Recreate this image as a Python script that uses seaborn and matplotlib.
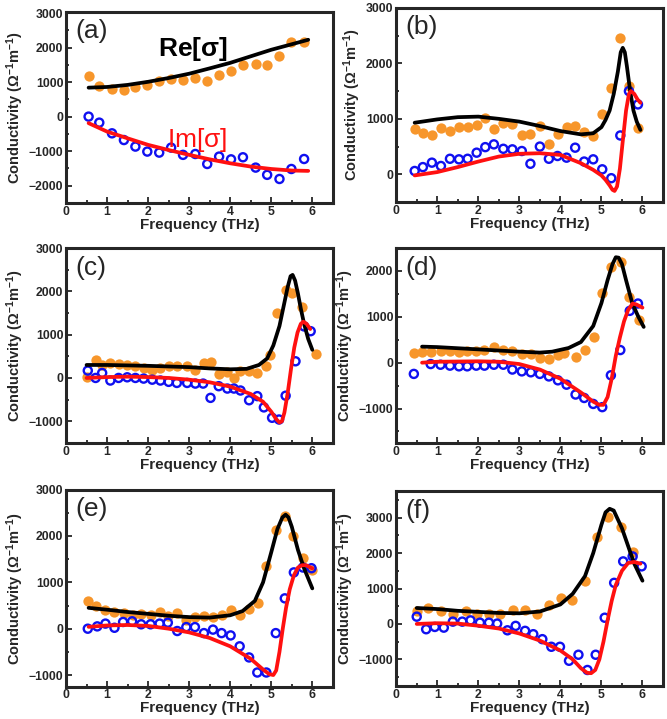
#!/usr/bin/env python3
import matplotlib
matplotlib.use('Agg')
import matplotlib.pyplot as plt
from matplotlib.ticker import AutoMinorLocator, MultipleLocator
import seaborn as sns

# ---- panel (a) ----
a_dot_x = [0.55, 0.81, 1.12, 1.41, 1.69, 1.98, 2.27, 2.56, 2.85, 3.15, 3.44, 3.73, 4.02, 4.31, 4.62, 4.90, 5.20, 5.49, 5.80]
a_re_dot = [1180, 890, 790, 775, 850, 910, 1035, 1080, 1065, 1110, 1045, 1210, 1325, 1500, 1520, 1490, 1760, 2175, 2175]
a_im_dot = [0, -175, -485, -680, -870, -1015, -1045, -900, -1110, -1085, -1375, -1160, -1240, -1180, -1480, -1690, -1810, -1520, -1230]
a_fit_x = [0.55, 1.0, 1.5, 2.0, 2.5, 3.0, 3.5, 4.0, 4.5, 5.0, 5.5, 5.9]
a_re_fit = [840, 860, 920, 1010, 1120, 1245, 1400, 1560, 1750, 1940, 2100, 2230]
a_im_fit = [-190, -435, -630, -820, -970, -1110, -1240, -1355, -1450, -1520, -1565, -1575]

# ---- panel (b) ----
b_dot_x = [0.45, 0.65, 0.87, 1.09, 1.31, 1.53, 1.74, 1.96, 2.17, 2.38, 2.61, 2.83, 3.06, 3.27, 3.5, 3.72, 3.93, 4.15, 4.36, 4.58, 4.8, 5.02, 5.24, 5.46, 5.67, 5.89]
b_re_dot = [820, 750, 700, 835, 780, 850, 850, 880, 1020, 810, 930, 900, 700, 720, 870, 550, 720, 850, 870, 760, 690, 1080, 1560, 2460, 1590, 840]
b_im_dot = [60, 130, 210, 150, 280, 270, 280, 390, 490, 540, 460, 450, 420, 190, 500, 280, 330, 300, 480, 230, 270, 90, -70, 700, 1500, 1260]
b_re_fit_x = [0.45, 1.0, 1.5, 2.0, 2.5, 3.0, 3.5, 4.0, 4.5, 4.8, 5.0, 5.1, 5.2, 5.3, 5.4, 5.47, 5.52, 5.57, 5.62, 5.7, 5.78, 5.86, 5.95]
b_re_fit = [930, 990, 1030, 1040, 1000, 950, 870, 780, 720, 740, 850, 980, 1150, 1450, 1850, 2200, 2280, 2200, 1950, 1500, 1150, 950, 800]
b_im_fit_x = [0.45, 1.0, 1.5, 2.0, 2.5, 3.0, 3.5, 4.0, 4.5, 4.8, 5.0, 5.1, 5.2, 5.27, 5.32, 5.38, 5.45, 5.52, 5.6, 5.67, 5.72, 5.8, 5.88, 5.95]
b_im_fit = [-20, 40, 130, 230, 320, 370, 380, 350, 200, 80, -20, -100, -200, -280, -300, -220, 100, 600, 1150, 1450, 1500, 1450, 1350, 1290]

# ---- panel (c) ----
c_re_x = [0.51, 0.72, 0.88, 1.08, 1.28, 1.49, 1.69, 1.89, 2.1, 2.3, 2.5, 2.7, 2.95, 3.15, 3.36, 3.52, 3.72, 3.93, 4.09, 4.25, 4.46, 4.66, 4.86, 4.98, 5.15, 5.35, 5.51, 5.76, 6.1]
c_re_dot = [15, 420, 310, 350, 320, 310, 270, 230, 190, 230, 270, 270, 270, 190, 350, 370, 80, 140, 0, 150, 150, 115, 270, 540, 1500, 2040, 1960, 1650, 560]
c_im_x = [0.53, 0.72, 0.88, 1.08, 1.28, 1.49, 1.69, 1.89, 2.1, 2.3, 2.5, 2.7, 2.95, 3.15, 3.34, 3.52, 3.72, 3.93, 4.09, 4.25, 4.46, 4.66, 4.82, 5.02, 5.19, 5.35, 5.59, 5.8, 5.96]
c_im_dot = [170, 0, 115, -60, 0, 15, 0, -15, -40, -60, -90, -115, -115, -130, -130, -460, -190, -245, -245, -290, -515, -420, -680, -920, -960, -410, 385, 1190, 1080]
c_re_fit_x = [0.5, 1.0, 2.0, 3.0, 3.5, 4.0, 4.4, 4.7, 4.9, 5.05, 5.2, 5.3, 5.4, 5.47, 5.52, 5.58, 5.65, 5.72, 5.8, 5.9, 6.0]
c_re_fit = [300, 300, 280, 250, 220, 200, 210, 300, 450, 750, 1200, 1650, 2100, 2350, 2380, 2250, 1950, 1600, 1250, 900, 650]
c_im_fit_x = [0.5, 1.0, 1.5, 2.0, 2.5, 3.0, 3.5, 4.0, 4.5, 4.8, 5.0, 5.12, 5.2, 5.26, 5.32, 5.4, 5.48, 5.56, 5.64, 5.72, 5.78, 5.86, 5.95]
c_im_fit = [0, 20, 30, 20, 0, -40, -100, -200, -370, -550, -780, -950, -1030, -1000, -800, -350, 200, 700, 1050, 1250, 1300, 1250, 1130]

# ---- panel (d) ----
d_re_x = [0.43, 0.63, 0.84, 1.08, 1.31, 1.53, 1.73, 1.95, 2.15, 2.38, 2.61, 2.83, 3.06, 3.28, 3.5, 3.72, 3.94, 4.09, 4.37, 4.6, 4.82, 5.02, 5.23, 5.47, 5.67, 5.92]
d_re_dot = [210, 230, 230, 245, 245, 230, 245, 245, 285, 340, 285, 245, 190, 190, 100, 90, 175, 210, 125, 280, 570, 1510, 2090, 2190, 1440, 935]
d_im_x = [0.43, 0.84, 1.08, 1.31, 1.53, 1.73, 1.95, 2.15, 2.38, 2.61, 2.83, 3.06, 3.28, 3.5, 3.72, 3.94, 4.15, 4.37, 4.58, 4.8, 5.02, 5.23, 5.46, 5.69, 5.89]
d_im_dot = [-245, -30, -45, -65, -80, -80, -65, -65, -45, -45, -150, -190, -210, -245, -300, -385, -480, -695, -770, -900, -970, -275, 275, 1130, 1290]
d_re_fit_x = [0.63, 1.0, 2.0, 3.0, 3.5, 3.8, 4.2, 4.5, 4.8, 5.0, 5.15, 5.27, 5.35, 5.42, 5.5, 5.6, 5.75, 5.9, 6.03]
d_re_fit = [350, 340, 290, 240, 220, 240, 320, 450, 800, 1300, 1800, 2150, 2300, 2290, 2150, 1800, 1300, 1000, 780]
d_im_fit_x = [0.63, 1.0, 2.0, 2.5, 3.0, 3.5, 4.0, 4.5, 4.8, 4.95, 5.05, 5.15, 5.25, 5.35, 5.45, 5.55, 5.65, 5.76, 5.85, 6.0]
d_im_fit = [0, 20, 30, 20, -30, -150, -350, -650, -850, -920, -920, -750, -350, 150, 550, 900, 1150, 1290, 1270, 1200]

# ---- panel (e) ----
e_re_x = [0.53, 0.73, 0.96, 1.18, 1.41, 1.63, 1.83, 2.06, 2.28, 2.49, 2.71, 2.93, 3.14, 3.36, 3.58, 3.79, 4.01, 4.23, 4.46, 4.67, 4.88, 5.11, 5.33, 5.54, 5.77, 6.0]
e_re_dot = [600, 490, 410, 365, 330, 305, 310, 305, 365, 275, 330, 180, 255, 270, 255, 290, 400, 290, 415, 565, 1345, 2140, 2430, 2000, 1525, 1270]
e_im_x = [0.53, 0.76, 0.96, 1.18, 1.39, 1.61, 1.83, 2.06, 2.28, 2.48, 2.71, 2.93, 3.14, 3.36, 3.58, 3.79, 4.01, 4.23, 4.46, 4.66, 4.88, 5.11, 5.33, 5.55, 5.77, 5.98]
e_im_dot = [0, 50, 110, 20, 145, 160, 95, 95, 110, 130, -50, 35, 35, -95, -20, -95, -145, -380, -620, -945, -945, -95, 655, 1215, 1320, 1305]
e_re_fit_x = [0.55, 1.0, 1.5, 2.0, 2.5, 3.0, 3.5, 4.0, 4.3, 4.6, 4.8, 5.0, 5.15, 5.27, 5.35, 5.42, 5.5, 5.65, 5.8, 6.0]
e_re_fit = [450, 410, 360, 320, 280, 250, 240, 290, 380, 600, 1000, 1650, 2150, 2400, 2460, 2400, 2200, 1700, 1300, 870]
e_im_fit_x = [0.55, 1.0, 1.5, 2.0, 2.5, 3.0, 3.5, 4.0, 4.5, 4.8, 4.95, 5.05, 5.12, 5.2, 5.28, 5.36, 5.45, 5.55, 5.65, 5.75, 5.85, 6.0]
e_im_fit = [40, 70, 80, 60, 0, -80, -200, -380, -650, -880, -980, -1000, -900, -500, 0, 450, 850, 1150, 1320, 1370, 1370, 1300]

# ---- panel (f) ----
f_re_x = [0.51, 0.78, 1.08, 1.39, 1.69, 1.98, 2.26, 2.54, 2.85, 3.14, 3.44, 3.72, 4.01, 4.29, 4.6, 4.88, 5.16, 5.47, 5.76]
f_re_dot = [365, 440, 365, 290, 365, 290, 270, 270, 385, 385, 290, 525, 740, 665, 1225, 2440, 3030, 2750, 2030]
f_im_x = [0.5, 0.73, 0.94, 1.16, 1.38, 1.61, 1.81, 2.04, 2.26, 2.46, 2.71, 2.91, 3.14, 3.34, 3.56, 3.78, 3.99, 4.21, 4.44, 4.66, 4.86, 5.08, 5.31, 5.53, 5.76, 5.98]
f_im_dot = [205, -150, -85, -105, 65, 65, 100, 35, 35, 10, -180, -55, -195, -290, -430, -645, -645, -1040, -870, -1300, -870, 175, 1160, 1765, 1905, 1625]
f_re_fit_x = [0.5, 1.0, 1.5, 2.0, 2.5, 3.0, 3.5, 4.0, 4.3, 4.6, 4.8, 5.0, 5.1, 5.2, 5.3, 5.4, 5.5, 5.65, 5.8, 6.0]
f_re_fit = [450, 420, 370, 340, 310, 300, 350, 550, 850, 1350, 2000, 2800, 3150, 3250, 3200, 2950, 2700, 2200, 1700, 1220]
f_im_fit_x = [0.5, 1.0, 1.5, 2.0, 2.5, 3.0, 3.5, 4.0, 4.3, 4.5, 4.65, 4.75, 4.85, 4.95, 5.05, 5.15, 5.25, 5.35, 5.5, 5.65, 5.8, 5.95]
f_im_fit = [0, 20, 10, -50, -130, -270, -470, -750, -1000, -1250, -1380, -1390, -1300, -1000, -500, 100, 650, 1100, 1500, 1720, 1750, 1700]

panel_labels = ['(a)', '(b)', '(c)', '(d)', '(e)', '(f)']
y_limits = [(-2500, 3050), (-500, 3000), (-1500, 3000), (-1750, 2500), (-1250, 3000), (-1750, 3750)]

panels = [
    (a_dot_x, a_re_dot, a_dot_x, a_im_dot, a_fit_x, a_re_fit, a_fit_x, a_im_fit),
    (b_dot_x, b_re_dot, b_dot_x, b_im_dot, b_re_fit_x, b_re_fit, b_im_fit_x, b_im_fit),
    (c_re_x, c_re_dot, c_im_x, c_im_dot, c_re_fit_x, c_re_fit, c_im_fit_x, c_im_fit),
    (d_re_x, d_re_dot, d_im_x, d_im_dot, d_re_fit_x, d_re_fit, d_im_fit_x, d_im_fit),
    (e_re_x, e_re_dot, e_im_x, e_im_dot, e_re_fit_x, e_re_fit, e_im_fit_x, e_im_fit),
    (f_re_x, f_re_dot, f_im_x, f_im_dot, f_re_fit_x, f_re_fit, f_im_fit_x, f_im_fit),
]

# axes boxes in figure fractions: left, bottom, width, height
boxes = [
    (0.099, 0.718, 0.400, 0.266),
    (0.594, 0.719, 0.400, 0.270),
    (0.099, 0.384, 0.400, 0.271),
    (0.594, 0.384, 0.400, 0.271),
    (0.099, 0.045, 0.400, 0.274),
    (0.594, 0.046, 0.400, 0.271),
]

sns.set_style('ticks')
plt.rcParams['font.family'] = ['Liberation Sans', 'DejaVu Sans']
plt.rcParams['mathtext.fontset'] = 'custom'
plt.rcParams['mathtext.bf'] = 'Liberation Sans:bold'
plt.rcParams['mathtext.rm'] = 'Liberation Sans'

orange = '#F7962B'
blue = '#1010F0'
red = '#FF1010'

fig = plt.figure(figsize=(6.67, 7.19), dpi=100)

for i, (rx, ry, ix, iy, rfx, rfy, ifx, ify) in enumerate(panels):
    ax = fig.add_axes(boxes[i])
    sns.scatterplot(x=rx, y=ry, ax=ax, color=orange, s=55, linewidth=0, zorder=2)
    sns.scatterplot(x=ix, y=iy, ax=ax, marker='o', s=34, facecolors='none',
                    edgecolor=blue, linewidth=1.7, zorder=2)
    sns.lineplot(x=rfx, y=rfy, ax=ax, color='black', lw=2.7, sort=False, zorder=3)
    sns.lineplot(x=ifx, y=ify, ax=ax, color=red, lw=2.7, sort=False, zorder=3)

    ax.set_xlim(0, 6.5)
    ax.set_ylim(*y_limits[i])
    ax.xaxis.set_major_locator(MultipleLocator(1))
    ax.yaxis.set_major_locator(MultipleLocator(1000))
    ax.xaxis.set_minor_locator(AutoMinorLocator(2))
    ax.yaxis.set_minor_locator(AutoMinorLocator(2))
    ax.tick_params(which='both', direction='in', width=1.3, labelsize=8.8, pad=2)
    ax.tick_params(which='major', length=4)
    ax.tick_params(which='minor', length=2.5)
    for lab in ax.get_xticklabels() + ax.get_yticklabels():
        lab.set_fontweight('bold')
    for sp in ax.spines.values():
        sp.set_linewidth(2.2)

    ax.set_xlabel('Frequency (THz)', fontsize=11, fontweight='bold', labelpad=0)
    ax.set_ylabel(r'Conductivity ($\mathbf{\Omega^{-1}m^{-1}}$)', fontsize=10.5,
                  fontweight='bold', labelpad=2)
    ax.text(0.035, 0.9, panel_labels[i], transform=ax.transAxes, fontsize=19,
            ha='left', va='center')

    if i == 0:
        ax.text(3.1, 1950, r'Re[$\mathregular{\sigma}$]', fontsize=19, fontweight='bold',
                ha='center', va='center', color='black')
        ax.text(3.2, -680, r'Im[$\mathregular{\sigma}$]', fontsize=19,
                ha='center', va='center', color=red)

fig.savefig('out.png', dpi=100)
